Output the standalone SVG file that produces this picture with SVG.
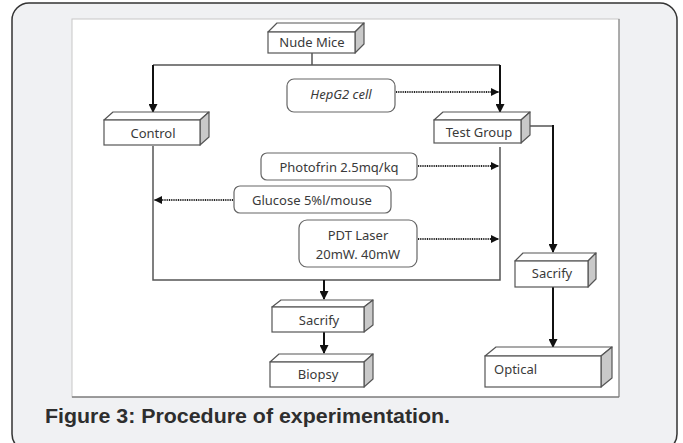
<svg xmlns="http://www.w3.org/2000/svg" width="683" height="443" viewBox="0 0 683 443">
<defs>
<marker id="ah" markerUnits="userSpaceOnUse" markerWidth="9" markerHeight="9" refX="8" refY="4.5" orient="auto">
<path d="M0,0 L9,4.5 L0,9 z" fill="#111"/>
</marker>
<marker id="ahs" markerUnits="userSpaceOnUse" markerWidth="8" markerHeight="8" refX="8" refY="4" orient="auto">
<path d="M0,0 L8,4 L0,8 z" fill="#111"/>
</marker>
</defs>
<style>
.front{fill:#fff;stroke:#555;stroke-width:1.2}
.top{fill:#fff;stroke:#555;stroke-width:1.2;stroke-linejoin:round}
.side{fill:#c9c9c9;stroke:#555;stroke-width:1.2;stroke-linejoin:round}
.rbox{fill:#fff;stroke:#666;stroke-width:1.2}
.t{font-family:"Noto Sans","DejaVu Sans",sans-serif;font-size:13px;fill:#3a3a3a;text-anchor:middle}
.ts{text-anchor:start}
.line{fill:none;stroke:#555;stroke-width:1.5}
.arr{fill:none;stroke:#111;stroke-width:2;marker-end:url(#ah)}
.dot{fill:none;stroke:#222;stroke-width:2.2;stroke-dasharray:1 0.8;marker-end:url(#ahs)}
</style>
<rect x="12" y="3" width="665" height="448" rx="17" fill="#f0f1f3" stroke="#333" stroke-width="1.5"/>
<rect x="72" y="19" width="547" height="378" fill="#fff" stroke="#c8c8c8" stroke-width="1"/>
<line x1="72" y1="397" x2="619" y2="397" stroke="#555" stroke-width="1.2"/>
<line x1="619" y1="19" x2="619" y2="397" stroke="#777" stroke-width="1"/>
<text x="45" y="423" font-family="'Liberation Sans','Arial',sans-serif" font-weight="bold" font-size="21" fill="#2e2e2e" textLength="405" lengthAdjust="spacingAndGlyphs">Figure 3: Procedure of experimentation.</text>

<g id="connectors">
<polyline class="line" points="312,52 312,65"/>
<line class="line" x1="153" y1="65" x2="500" y2="65"/>
<line class="arr" x1="153" y1="65" x2="153" y2="112"/>
<line class="arr" x1="500" y1="65" x2="500" y2="112"/>
<line class="dot" x1="396" y1="92" x2="499" y2="92"/>
<polyline class="line" points="153,146 153,280 500,280 500,147"/>
<line class="dot" x1="418" y1="166" x2="499" y2="166"/>
<line class="dot" x1="233" y1="200" x2="154" y2="200"/>
<line class="dot" x1="418" y1="239" x2="499" y2="239"/>
<line class="arr" x1="324" y1="280" x2="324" y2="299"/>
<line class="arr" x1="324" y1="332" x2="324" y2="353"/>
<polyline class="line" points="530,126 553,126"/>
<line class="arr" x1="553" y1="125" x2="553" y2="252"/>
<line class="arr" x1="553" y1="287" x2="553" y2="347"/>
</g>

<g id="nude-mice">
<polygon class="top" points="268,32 277,23 364,23 355,32"/>
<polygon class="side" points="355,32 364,23 364,44 355,53"/>
<rect class="front" x="268" y="32" width="87" height="21"/>
<text class="t" x="312" y="47">Nude Mice</text>
</g>

<g id="hepg2">
<rect class="rbox" x="287" y="79" width="108" height="33" rx="7"/>
<text class="t" x="341" y="99" font-style="italic">HepG2 cell</text>
</g>

<g id="control">
<polygon class="top" points="104,120 113,112 209,112 200,120"/>
<polygon class="side" points="200,120 209,112 209,137 200,145"/>
<rect class="front" x="104" y="120" width="96" height="25"/>
<text class="t" x="153" y="138">Control</text>
</g>

<g id="test-group">
<polygon class="top" points="434,120 443,112 530,112 521,120"/>
<polygon class="side" points="521,120 530,112 530,135 521,143"/>
<rect class="front" x="434" y="120" width="87" height="23"/>
<text class="t" x="479" y="137">Test Group</text>
</g>

<g id="photofrin">
<rect class="rbox" x="261" y="153" width="156" height="27" rx="6"/>
<text class="t" x="339" y="172">Photofrin 2.5mq/kq</text>
</g>

<g id="glucose">
<rect class="rbox" x="234" y="186" width="157" height="27" rx="6"/>
<text class="t" x="312" y="205">Glucose 5%l/mouse</text>
</g>

<g id="pdt-laser">
<rect class="rbox" x="299" y="220" width="118" height="47" rx="8"/>
<text class="t" x="358" y="240">PDT Laser</text>
<text class="t" x="358" y="259">20mW. 40mW</text>
</g>

<g id="sacrify-center">
<polygon class="top" points="272,307 281,300 373,300 364,307"/>
<polygon class="side" points="364,307 373,300 373,325 364,332"/>
<rect class="front" x="272" y="307" width="92" height="25"/>
<text class="t" x="319" y="325">Sacrify</text>
</g>

<g id="biopsy">
<polygon class="top" points="270,362 279,354 373,354 364,362"/>
<polygon class="side" points="364,362 373,354 373,379 364,387"/>
<rect class="front" x="270" y="362" width="94" height="25"/>
<text class="t" x="318" y="379">Biopsy</text>
</g>

<g id="sacrify-right">
<polygon class="top" points="515,261 523,253 596,253 588,261"/>
<polygon class="side" points="588,261 596,253 596,279 588,287"/>
<rect class="front" x="515" y="261" width="73" height="26"/>
<text class="t" x="552" y="278">Sacrify</text>
</g>

<g id="optical">
<polygon class="top" points="485,356 496,347 612,347 601,356"/>
<polygon class="side" points="601,356 612,347 612,378 601,387"/>
<rect class="front" x="485" y="356" width="116" height="31"/>
<text class="t ts" x="494" y="374">Optical</text>
</g>
</svg>
